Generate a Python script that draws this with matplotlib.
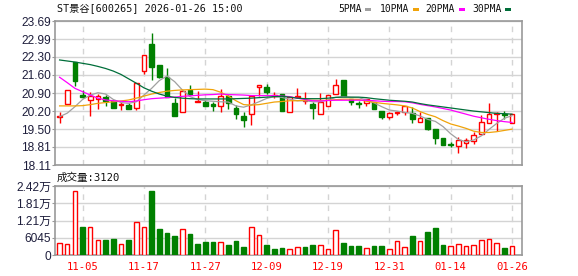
import matplotlib.pyplot as plt
import numpy as np
from matplotlib.patches import Rectangle

# trading days shown (10-31 .. 01-26)
dates = ['10-31', '11-03', '11-04', '11-05', '11-06', '11-07', '11-10', '11-11', '11-12', '11-13',
         '11-14', '11-17', '11-18', '11-19', '11-20', '11-21', '11-24', '11-25', '11-26', '11-27',
         '11-28', '12-01', '12-02', '12-03', '12-04', '12-05', '12-08', '12-09', '12-10', '12-11',
         '12-12', '12-15', '12-16', '12-17', '12-18', '12-19', '12-22', '12-23', '12-24', '12-25',
         '12-26', '12-29', '12-30', '12-31', '01-05', '01-06', '01-07', '01-08', '01-09', '01-12',
         '01-13', '01-14', '01-15', '01-16', '01-19', '01-20', '01-21', '01-22', '01-23', '01-26']

opens = [19.97, 20.49, 22.09, 20.82, 20.62, 20.68, 20.76, 20.59, 20.45, 20.43,
         20.31, 21.75, 22.79, 21.97, 21.51, 20.51, 20.18, 21.02, 20.56, 20.54,
         20.46, 20.38, 20.78, 20.31, 20.01, 20.07, 21.12, 21.15, 20.80, 20.86,
         20.18, 20.75, 20.58, 20.46, 20.10, 20.38, 20.85, 21.40, 20.67, 20.51,
         20.53, 20.54, 20.22, 19.98, 20.11, 20.17, 20.11, 19.76, 19.93, 19.50,
         19.17, 18.91, 18.86, 18.95, 19.04, 19.31, 19.72, 20.10, 20.10, 19.75]
highs = [20.15, 21.00, 22.09, 21.02, 20.93, 20.87, 20.82, 20.62, 20.54, 20.50,
         21.27, 22.36, 23.21, 21.97, 21.88, 20.69, 21.02, 21.21, 20.98, 20.63,
         20.54, 21.05, 20.82, 20.44, 20.18, 20.82, 21.20, 21.25, 20.95, 20.86,
         20.74, 21.08, 20.93, 20.54, 20.89, 20.82, 21.44, 21.40, 20.67, 20.59,
         20.65, 20.54, 20.22, 20.16, 20.22, 20.41, 20.34, 20.18, 19.93, 19.50,
         19.17, 19.01, 19.21, 19.14, 19.38, 20.05, 20.50, 20.17, 20.21, 20.08]
lows = [19.72, 20.49, 21.18, 20.69, 20.02, 20.29, 20.41, 20.33, 20.24, 20.29,
        20.23, 21.62, 21.40, 21.47, 20.76, 20.02, 20.18, 20.82, 20.54, 20.41,
        20.20, 20.18, 20.28, 19.90, 19.60, 19.65, 20.78, 20.87, 20.72, 20.22,
        20.18, 20.69, 20.46, 19.88, 20.10, 20.38, 20.85, 20.78, 20.43, 20.33,
        20.40, 20.27, 19.88, 19.88, 20.05, 20.03, 19.72, 19.76, 19.47, 18.92,
        18.89, 18.82, 18.59, 18.77, 18.92, 19.31, 19.72, 19.44, 19.89, 19.75]
closes = [20.02, 21.00, 21.38, 20.73, 20.78, 20.80, 20.60, 20.33, 20.47, 20.29,
          21.27, 22.36, 21.92, 21.51, 20.76, 20.02, 20.98, 20.85, 20.59, 20.41,
          20.40, 20.78, 20.50, 20.09, 19.84, 20.80, 21.20, 20.93, 20.83, 20.22,
          20.74, 20.77, 20.62, 20.33, 20.56, 20.82, 21.21, 20.78, 20.54, 20.49,
          20.65, 20.27, 19.96, 20.11, 20.18, 20.41, 19.90, 19.93, 19.50, 19.17,
          18.89, 18.90, 19.08, 19.09, 19.27, 19.76, 20.09, 20.12, 20.06, 20.08]

ma5 = [19.98, 20.12, 20.37, 20.65, 20.82, 20.91, 20.86, 20.65, 20.53, 20.50,
       20.56, 20.82, 21.08, 21.38, 21.56, 21.34, 21.02, 20.76, 20.65, 20.60,
       20.58, 20.56, 20.55, 20.40, 20.35, 20.44, 20.56, 20.69, 20.76, 20.73,
       20.66, 20.60, 20.60, 20.56, 20.56, 20.63, 20.73, 20.76, 20.73, 20.72,
       20.63, 20.52, 20.37, 20.24, 20.20, 20.15, 20.11, 20.01, 19.88, 19.80,
       19.60, 19.32, 19.10, 19.01, 19.08, 19.24, 19.49, 19.72, 19.92, 20.02]
ma10 = [20.40, 20.40, 20.40, 20.41, 20.45, 20.50, 20.53, 20.56, 20.59, 20.63,
        20.70, 20.78, 20.86, 20.92, 20.97, 21.00, 21.02, 21.03, 21.04, 21.05,
        21.03, 20.93, 20.78, 20.60, 20.45, 20.43, 20.45, 20.50, 20.55, 20.57,
        20.60, 20.60, 20.62, 20.62, 20.61, 20.62, 20.64, 20.66, 20.66, 20.65,
        20.58, 20.54, 20.50, 20.47, 20.44, 20.40, 20.32, 20.18, 20.07, 19.98,
        19.83, 19.70, 19.62, 19.53, 19.42, 19.37, 19.37, 19.40, 19.45, 19.50]
ma20 = [21.51, 21.30, 21.08, 20.95, 20.82, 20.70, 20.63, 20.60, 20.58, 20.56,
        20.59, 20.64, 20.68, 20.70, 20.72, 20.74, 20.77, 20.79, 20.81, 20.83,
        20.84, 20.86, 20.84, 20.83, 20.82, 20.80, 20.80, 20.80, 20.80, 20.78,
        20.76, 20.70, 20.65, 20.60, 20.59, 20.61, 20.62, 20.62, 20.62, 20.62,
        20.62, 20.60, 20.58, 20.57, 20.57, 20.56, 20.52, 20.46, 20.41, 20.36,
        20.30, 20.24, 20.16, 20.08, 20.00, 19.94, 19.88, 19.83, 19.79, 19.76]
ma30 = [22.18, 22.14, 22.10, 22.05, 22.00, 21.93, 21.85, 21.75, 21.62, 21.45,
        21.28, 21.10, 20.97, 20.86, 20.78, 20.73, 20.70, 20.68, 20.67, 20.67,
        20.67, 20.67, 20.67, 20.68, 20.69, 20.70, 20.72, 20.74, 20.76, 20.77,
        20.74, 20.70, 20.68, 20.68, 20.68, 20.70, 20.73, 20.74, 20.74, 20.74,
        20.72, 20.68, 20.65, 20.62, 20.60, 20.58, 20.55, 20.49, 20.44, 20.40,
        20.36, 20.32, 20.28, 20.24, 20.20, 20.17, 20.14, 20.11, 20.10, 20.08]

volumes = [4090, 3850, 22310, 9810, 9690, 5260, 5260, 5610, 3850, 5260,
           11450, 9690, 22430, 9110, 7830, 6660, 8990, 7360, 3850, 4670,
           4670, 4670, 3500, 5020, 2800, 9690, 7010, 3500, 2100, 2450,
           2220, 2920, 2800, 3390, 3390, 1990, 8640, 4210, 3150, 3150,
           2340, 3150, 3150, 1990, 4910, 2690, 6660, 4910, 8060, 9460,
           3500, 3150, 3740, 3150, 3390, 5260, 5490, 4210, 2450, 3120]

price_ticks = [18.11, 18.81, 19.50, 20.20, 20.90, 21.60, 22.30, 22.99, 23.69]
vol_ticks = [0, 6045, 12090, 18135, 24180]
vol_labels = ['0', '6045', '1.21万', '1.81万', '2.42万']
label_dates = ['11-05', '11-17', '11-27', '12-09', '12-19', '12-31', '01-14', '01-26']

RED = '#ff0000'
GREEN = '#008000'
GRID = '#d4d4d4'
SPINE = '#999999'
W, H = 578, 276

fig = plt.figure(figsize=(W / 100, H / 100), dpi=100)
ax = fig.add_axes([55 / W, (H - 165) / H, 467 / W, 144 / H])
axv = fig.add_axes([55 / W, (H - 255) / H, 467 / W, 69 / H])

x = np.arange(len(dates))
o, hi, lo, c = map(np.array, (opens, highs, lows, closes))
up = c >= o

# candles
ax.vlines(x, lo, hi, colors=np.where(up, RED, GREEN), lw=1, zorder=2)
body = c - o
body = np.where(np.abs(body) < 0.01, 0.01, body)
ax.bar(x[up], body[up], bottom=o[up], width=0.6, facecolor='white',
       edgecolor=RED, lw=1, zorder=3)
ax.bar(x[~up], body[~up], bottom=o[~up], width=0.6, facecolor=GREEN,
       edgecolor=GREEN, lw=1, zorder=3)

# moving averages
ma_colors = ['#a0a0a0', '#f0a30a', '#ff00ff', '#006e3a']
for ma, col in zip([ma5, ma10, ma20, ma30], ma_colors):
    ax.plot(x, ma, color=col, lw=0.9, zorder=4)

# volume, coloured by close vs previous close
vol_up = np.concatenate([[True], c[1:] >= c[:-1]])
v = np.array(volumes)
axv.bar(x[vol_up], v[vol_up], width=0.58, facecolor='white', edgecolor=RED, lw=1, zorder=3)
axv.bar(x[~vol_up], v[~vol_up], width=0.58, facecolor=GREEN, edgecolor=GREEN, lw=1, zorder=3)

label_idx = [dates.index(d) for d in label_dates]
for a in (ax, axv):
    a.set_xlim(-0.6, 60.3)
    a.set_xticks(label_idx)
    a.grid(axis='y', color=GRID, lw=1, zorder=0)
    a.grid(axis='x', color=GRID, lw=1, ls=(0, (4, 4)), zorder=0)
    for s in a.spines.values():
        s.set_color(SPINE)
        s.set_linewidth(1.2)
    a.tick_params(axis='y', length=2, color=SPINE, pad=0.8, labelsize=8.6,
                  labelcolor='#1e1e3c')
    a.tick_params(axis='x', length=0)

ax.set_ylim(18.11, 23.69)
ax.set_yticks(price_ticks)
ax.set_yticklabels([f'{t:.2f}' for t in price_ticks], family='Liberation Sans')
ax.set_xticklabels([])

axv.set_ylim(0, 24180)
axv.set_yticks(vol_ticks)
axv.set_yticklabels(vol_labels, family=['Liberation Sans', 'Noto Sans CJK SC'])
axv.set_xticklabels(label_dates, family='DejaVu Sans Mono', fontsize=7.6, color=RED)
axv.tick_params(axis='x', pad=5)

mono = ['DejaVu Sans Mono', 'Noto Sans CJK SC']
fig.text(57 / W, 1 - 9.5 / H, 'ST景谷[600265] 2026-01-26 15:00', family=mono,
         fontsize=7.3, va='center', ha='left', color='#111111')
fig.text(57 / W, 1 - 178 / H, '成交量:3120', family=mono, fontsize=7.6,
         va='center', ha='left', color='#111111')

# legend
legend_items = [('5PMA', 338), ('10PMA', 380), ('20PMA', 425), ('30PMA', 472)]
square_x = [365, 413, 459, 505]
for (name, lx), sx, col in zip(legend_items, square_x, ma_colors):
    fig.text(lx / W, 1 - 9.5 / H, name, family='DejaVu Sans Mono', fontsize=7.0,
             va='center', ha='left', color='#111111')
    fig.add_artist(Rectangle((sx / W, 1 - 11 / H), 6 / W, 3.5 / H,
                             transform=fig.transFigure, facecolor=col, edgecolor='none'))

fig.savefig('out.png', dpi=100, facecolor='white')
